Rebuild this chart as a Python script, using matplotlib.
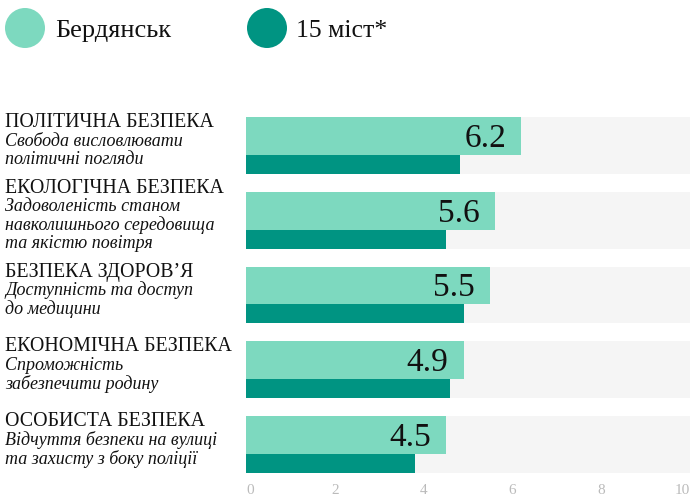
import matplotlib
matplotlib.use("Agg")
import matplotlib.pyplot as plt
from matplotlib.patches import Circle
from matplotlib.transforms import blended_transform_factory

plt.rcParams['font.family'] = ['Liberation Serif', 'DejaVu Serif']

# data
categories = ["ПОЛІТИЧНА БЕЗПЕКА", "ЕКОЛОГІЧНА БЕЗПЕКА", "БЕЗПЕКА ЗДОРОВ’Я",
              "ЕКОНОМІЧНА БЕЗПЕКА", "ОСОБИСТА БЕЗПЕКА"]
subtitles = [
    ["Свобода висловлювати", "політичні погляди"],
    ["Задоволеність станом", "навколишнього середовища", "та якістю повітря"],
    ["Доступність та доступ", "до медицини"],
    ["Спроможність", "забезпечити родину"],
    ["Відчуття безпеки на вулиці", "та захисту з боку поліції"],
]
berdiansk = [6.2, 5.6, 5.5, 4.9, 4.5]
cities15 = [4.82, 4.5, 4.9, 4.6, 3.8]
series_names = ["Бердянськ", "15 міст*"]
x_ticks = [0, 2, 4, 6, 8, 10]

LIGHT = "#7dd9bf"
DARK = "#009482"
BG = "#f5f5f5"

W, H = 692, 499
fig = plt.figure(figsize=(W / 100, H / 100), dpi=100)

# bar axes: x 246..690 px, y 117..473 px
pitch = 74.8
ax = fig.add_axes([246 / W, 1 - 473 / H, 444 / W, 356 / H])
gh = 57 / pitch
lh = 38 / pitch
dh = 19 / pitch
n = len(categories)
ax.set_xlim(0, 10)
ax.set_ylim(n - 1 + gh, 0)

for i in range(n):
    ax.barh(i + gh / 2, 10, height=gh, color=BG, zorder=1)
    ax.barh(i + lh / 2, berdiansk[i], height=lh, color=LIGHT, zorder=2)
    ax.barh(i + lh + dh / 2, cities15[i], height=dh, color=DARK, zorder=2)
    ax.text(berdiansk[i] - 15 / 44.4, i + lh - 8 / pitch, f"{berdiansk[i]:.1f}",
            ha="right", va="baseline", fontsize=24, color="#111111", zorder=3)

for s in ax.spines.values():
    s.set_visible(False)
ax.set_yticks([])
ax.set_xticks(x_ticks)
ax.set_xticklabels([str(t) for t in x_ticks])
ax.tick_params(axis="x", length=0, pad=8, labelsize=11, labelcolor="#bbbbbb")
labels = ax.get_xticklabels()
labels[0].set_ha("left")
labels[-1].set_ha("right")

# left labels
trans = blended_transform_factory(fig.transFigure, ax.transData)
line = 18.5
for i in range(n):
    nl = 1 + len(subtitles[i])
    center = i + gh / 2
    base = center + (-(nl - 1) * line / 2 + 0) / pitch
    ax.text(5 / W, base, categories[i], transform=trans, ha="left", va="baseline",
            fontsize=14.3, color="#111111")
    for k, s in enumerate(subtitles[i]):
        ax.text(5 / W, base + (k + 1) * line / pitch + 0.5 / pitch, s, transform=trans,
                ha="left", va="baseline", fontsize=13, style="italic", color="#111111")

# legend
lax = fig.add_axes([0, 0, 1, 1], zorder=-1)
lax.set_xlim(0, W)
lax.set_ylim(H, 0)
lax.axis("off")
lax.add_patch(Circle((25, 28), 20, color=LIGHT, lw=0))
lax.add_patch(Circle((267, 28), 20, color=DARK, lw=0))
lax.text(55, 37, series_names[0], fontsize=19, va="baseline", ha="left", color="#111111")
lax.text(296, 37, series_names[1], fontsize=18.5, va="baseline", ha="left", color="#111111")

fig.savefig("out.png", dpi=100)
